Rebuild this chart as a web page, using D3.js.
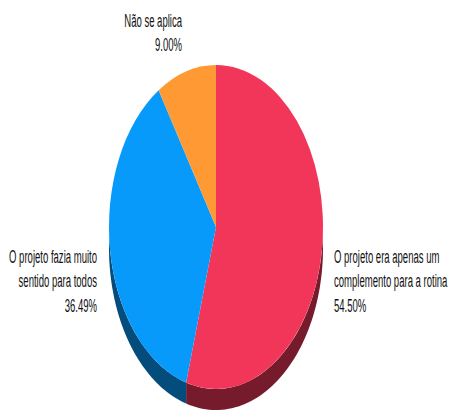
<!DOCTYPE html>
<html>
<head>
<meta charset="utf-8">
<script src="https://cdn.jsdelivr.net/npm/d3@7/dist/d3.min.js"></script>
<style>
  html, body { margin: 0; padding: 0; background: #fff; }
  svg { display: block; }
  text { font-family: "Liberation Sans", Arial, sans-serif; fill: #111; }
</style>
</head>
<body>
<svg id="chart" width="450" height="414"></svg>
<script>
// Survey answers and their shares (percent)
const categories = [
  "O projeto era apenas um complemento para a rotina",
  "O projeto fazia muito sentido para todos",
  "Não se aplica"
];
const values = [54.50, 36.49, 9.00];
const topColors = ["#F2365A", "#079AFA", "#FF9933"];
const sideColors = ["#761B2C", "#034C7B", "#8A4E15"];
// Label lines as printed beside each slice
const labelLines = [
  ["O projeto era apenas um", "complemento para a rotina"],
  ["O projeto fazia muito", "sentido para todos"],
  ["Não se aplica"]
];

const svg = d3.select("#chart");
const cx = 216, cy = 227, rx = 107, ry = 162, depth = 21;

const pie = d3.pie().sort(null).value(d => d);
const arcs = pie(values);

// point on the tilted (elliptical) rim for an angle measured clockwise from 12 o'clock
const rim = (a, dy = 0) => [cx + rx * Math.sin(a), cy - ry * Math.cos(a) + dy];

// Outer wall: only the front half (90°..270°) is visible
const wall = svg.append("g");
arcs.forEach((d, i) => {
  const s = Math.max(d.startAngle, Math.PI / 2);
  const e = Math.min(d.endAngle, 3 * Math.PI / 2);
  if (s >= e) return;
  const n = 60;
  const pts = [];
  for (let k = 0; k <= n; k++) pts.push(rim(s + (e - s) * k / n));
  for (let k = n; k >= 0; k--) pts.push(rim(s + (e - s) * k / n, depth));
  wall.append("path")
    .attr("d", d3.line()(pts) + "Z")
    .attr("fill", sideColors[i]);
});

// Top face: circular arcs squashed into the ellipse
const R = 100;
const arc = d3.arc().innerRadius(0).outerRadius(R);
svg.append("g")
  .attr("transform", `translate(${cx},${cy}) scale(${rx / R},${ry / R})`)
  .selectAll("path")
  .data(arcs)
  .join("path")
  .attr("d", arc)
  .attr("fill", (d, i) => topColors[i]);

// Labels (narrow lettering)
const fmt = v => v.toFixed(2) + "%";
const labelPos = [
  { x: 334, y: 263, anchor: "start" },
  { x: 97,  y: 263, anchor: "end" },
  { x: 182, y: 27,  anchor: "end" }
];
const sx = 0.53, fs = 18, lh = 24;
labelPos.forEach((p, i) => {
  const g = svg.append("g")
    .attr("transform", `translate(${p.x},${p.y}) scale(${sx},1)`);
  const lines = labelLines[i].concat([fmt(values[i])]);
  lines.forEach((t, j) => {
    g.append("text")
      .attr("x", 0)
      .attr("y", j * lh + (j === lines.length - 1 && lines.length > 2 ? 1 : 0))
      .attr("text-anchor", p.anchor)
      .attr("font-size", fs)
      .text(t);
  });
});
</script>
</body>
</html>
